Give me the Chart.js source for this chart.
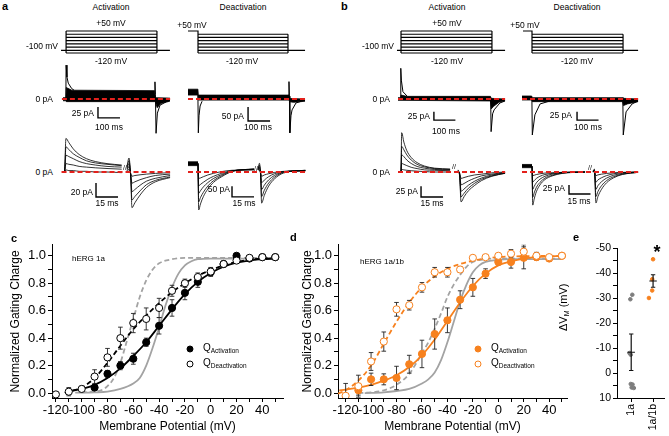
<!DOCTYPE html>
<html>
<head>
<meta charset="utf-8">
<script src="https://cdn.jsdelivr.net/npm/chart.js@4.4.1/dist/chart.umd.min.js"></script>
<style>
body{margin:0;background:#fff;width:669px;height:436px;position:relative;overflow:hidden;font-family:"Liberation Sans",Arial,sans-serif;}
canvas{position:absolute;}
.t{position:absolute;white-space:nowrap;line-height:1;color:#000;}
.t sub{font-size:0.65em;vertical-align:-0.25em;}
.dot{position:absolute;border-radius:50%;box-sizing:border-box;transform:translate(-50%,-50%);}
</style>
</head>
<body>
<script>
// ---------- panels a / b : protocols (mV, schematic) ----------
const stepsAct = [-120, -100, -75, -50, -25, 0, 25, 50];
const stepsDeact = [-120, -100, -75, -50, -25, 0, 25];
const holdMv = -100, preMv = 50;
// [hold start, step on, step off, hold end] in ms
const aActProtoT = [-9, 14, 427, 486];
const aDeactProtoT = [0, 45.5, 454.5, 532];
const bActProtoT = [-4.7, 14, 437, 498];
const bDeactProtoT = [4.7, 46.5, 470, 540];

// ---------- long current traces (ms, pA) ----------
const aActLongHi = [[0,3],[13,3],[15,26],[40,20],[416,19],[420,3],[486,2]];
const aActLongLo = [[0,-4],[13,-4],[15,-6],[416,-6],[421,-8],[428,-20],[445,-10],[470,-7],[486,-5]];
const aActLongSpk = [[13,0],[14,77],[18,50],[24,36],[39,24],[50,20],null,[416,10],[418,39],[420,10],[423,-78],[429,-32],[441,-14],[471,-6],[486,-3]];

const aDeactLongHi = [[0,35],[45,35],[47,14],[459,14],[462,2],[532,0]];
const aDeactLongLo = [[0,14],[45,14],[47,-4],[459,-4],[464,-10],[480,-12],[532,-8]];
const aDeactLongSpk = [[45,14],[47,-121],[50,-60],[55,-25],[64,-8],null,[457,14],[459,62],[461,10],[463,-121],[468,-60],[473,-39],[491,-14],[532,-4]];

const bActLongHi = [[0,4],[12,4],[14,12],[40,8],[430,8],[433,2],[498,0]];
const bActLongLo = [[0,-4],[430,-6],[434,-30],[445,-22],[470,-10],[498,-5]];
const bActLongSpk = [[12,0],[13,93],[16,55],[23,22],[42,9],null,[431,5],[433,-99],[440,-45],[447,-33],[474,-12],[498,-6]];

const bDeactLongHi = [[0,9],[45,9],[48,4],[470,4],[472,2],[540,0]];
const bDeactLongLo = [[0,-3],[45,-3],[48,-8],[468,-8],[472,-20],[490,-15],[540,-8]];
const bDeactLongSpk = [[46,4],[48,-109],[60,-48],[84,-15],[130,-6],null,[469,0],[471,-109],[484,-39],[512,-15],[540,-6]];

// ---------- expanded traces (ms, pA), two windows split by a break ----------
const aActShortT1 = [0, 1, 2, 4, 7, 11, 16, 22, 30, 40];
const aActShortI1 = [
  [0,0,48,42,33,25,19,15,12,10],
  [0,0,36,32,26,21,16,13,11,9],
  [0,0,24,22,19,15,12,10,8,7],
  [0,0,12,11,10,8,7,6,5,4],
  [0,0,3,2,2,1,1,0,0,-1]];
const aActShortT2 = [43.6, 45, 46.2, 47, 49, 52.5, 57, 63, 73];
const aActShortI2 = [
  [8,20,-10,-51,-44,-33,-22,-14,-8],
  [6,16,-8,-40,-35,-27,-18,-12,-7],
  [4,12,-6,-28,-25,-19,-13,-9,-5],
  [2,8,-4,-16,-14,-11,-8,-5,-3],
  [0,4,-2,-6,-5,-4,-3,-2,-1]];

const aDeactShortPreHi = [[0,48],[6.8,48]];
const aDeactShortPreLo = [[0,30],[6.8,30]];
const aDeactShortT1 = [6.8, 7.3, 8.5, 10.5, 13.5, 17.5, 23, 30, 45];
const aDeactShortI1 = [
  [40,-178,-150,-115,-80,-48,-22,2,15],
  [40,-140,-120,-95,-66,-40,-17,4,14],
  [40,-100,-88,-70,-50,-30,-12,5,12],
  [40,-65,-58,-48,-34,-20,-6,6,11],
  [40,-30,-28,-22,-14,-6,2,8,10]];
const aDeactShortT2 = [47.7, 48.7, 49.5, 50.2, 52, 55, 59, 65, 80];
const aDeactShortI2 = [
  [12,41,-20,-146,-110,-66,-32,-5,8],
  [12,32,-15,-115,-86,-52,-24,-2,8],
  [12,24,-10,-82,-62,-37,-16,0,7],
  [10,16,-6,-50,-38,-22,-8,2,6],
  [10,8,-2,-20,-14,-8,-2,3,5]];

const bActShortT1 = [0, 2, 2.5, 4, 6, 9, 13, 18, 25, 35.5];
const bActShortI1 = [
  [0,0,92,70,50,34,22,14,9,7],
  [0,0,60,52,40,28,18,12,8,6],
  [0,0,40,36,28,20,13,9,6,5],
  [0,0,20,18,15,11,8,5,4,3],
  [0,0,6,5,4,3,2,1,0,0]];
const bActShortT2 = [41, 42, 43, 45, 48, 52, 57, 64, 73];
const bActShortI2 = [
  [5,-10,-70,-58,-44,-32,-20,-10,-3],
  [4,-8,-58,-50,-38,-27,-17,-9,-3],
  [3,-6,-45,-40,-31,-22,-14,-7,-2],
  [2,-4,-30,-27,-21,-15,-9,-5,-1],
  [1,-2,-15,-13,-10,-7,-5,-2,0]];

const bDeactShortPreHi = [[0,21],[7,21]];
const bDeactShortPreLo = [[0,12],[7,12]];
const bDeactShortT1 = [7, 7.5, 8.5, 10, 12.5, 16, 21, 28, 44];
const bDeactShortI1 = [
  [16,-92,-75,-55,-36,-21,-11,-4,0],
  [16,-70,-58,-43,-29,-17,-9,-3,0],
  [16,-48,-40,-30,-20,-12,-6,-2,0],
  [16,-28,-24,-18,-12,-7,-4,-1,0],
  [16,-10,-9,-7,-5,-3,-2,-1,0]];
const bDeactShortT2 = [49.5, 50.5, 51.6, 53, 55.5, 59, 64, 70, 81];
const bDeactShortI2 = [
  [2,8,-86,-68,-48,-30,-16,-7,-1],
  [2,6,-68,-54,-38,-24,-13,-6,-1],
  [2,4,-48,-38,-27,-17,-9,-4,0],
  [1,2,-28,-22,-16,-10,-5,-2,0],
  [0,1,-10,-8,-6,-4,-2,-1,0]];

// zero-current reference spans [start, end] ms
const aActZero = [[-5, 487], [-1, 73]];
const aDeactZero = [[0, 532], [0, 80]];
const bActZero = [[0, 498], [0, 73]];
const bDeactZero = [[0, 540], [0, 81]];

// scale bars [t, i, dt, di]
const aActBars = [[159, -43, 100, 25], [22.5, -35.7, 15, 20]];
const aDeactBars = [[273, -78.6, 100, 50], [30, -117, 15, 50]];
const bActBars = [[167, -64, 100, 25], [15.7, -58.5, 15, 25]];
const bDeactBars = [[256, -64, 100, 25], [32.8, -61, 15, 25]];

// ---------- panels c / d : Q-V ----------
const vmTicks = [-120,-110,-100,-90,-80,-70,-60,-50,-40,-30,-20,-10,0,10,20,30,40,50];
const qTicks = [0, 0.1, 0.2, 0.3, 0.4, 0.5, 0.6, 0.7, 0.8, 0.9, 1.0];
const vm = [-120,-110,-100,-90,-80,-70,-60,-50,-40,-30,-20,-10,0,10,20,30,40,50];

const cActQ   = [null,null,null,0.04,0.14,0.20,0.25,0.37,0.49,0.62,0.73,0.81,0.88,0.94,1.0,0.98,0.99,0.99];
const cActErr = [null,null,null,0.02,0.025,0.03,0.04,0.03,0.06,0.06,0.05,0.04,0.03,0.02,0.005,0.01,0.01,0.01];
const cDeactQ   = [-0.01,0.01,0.03,0.12,0.26,0.40,0.51,0.54,0.62,0.745,0.80,0.845,0.885,0.94,0.965,0.985,0.99,0.99];
const cDeactErr = [0,0.03,0.02,0.05,0.065,0.08,0.07,0.08,0.07,0.04,0.03,0.03,0.03,0.02,0.01,0.01,0.005,0.005];
const cFitAct = [[-113,0.0],[-110,0.01],[-100,0.03],[-90,0.06],[-80,0.11],[-70,0.18],[-60,0.27],[-50,0.37],[-40,0.49],[-30,0.61],[-20,0.72],[-10,0.81],[0,0.875],[10,0.92],[20,0.95],[30,0.965],[40,0.975],[50,0.98]];
const cFitDeact = [[-113,0.0],[-110,0.01],[-100,0.04],[-90,0.11],[-80,0.22],[-70,0.345],[-60,0.465],[-50,0.565],[-40,0.655],[-30,0.735],[-20,0.80],[-10,0.855],[0,0.895],[10,0.93],[20,0.955],[30,0.97],[40,0.98],[50,0.985]];
const cRefAct = [[-105,0.003],[-90,0.005],[-80,0.01],[-70,0.03],[-60,0.07],[-55,0.11],[-50,0.2],[-45,0.33],[-40,0.48],[-35,0.64],[-30,0.77],[-25,0.87],[-20,0.93],[-15,0.96],[-10,0.975],[0,0.98],[50,0.98]];
const cRefDeact = [[-100,0.005],[-90,0.01],[-85,0.02],[-80,0.05],[-75,0.11],[-70,0.22],[-65,0.38],[-60,0.54],[-55,0.70],[-50,0.82],[-45,0.90],[-40,0.945],[-30,0.975],[-20,0.985],[50,0.985]];

const dActQ   = [null,0.02,0.10,0.10,0.11,0.21,0.285,0.43,0.53,0.68,0.77,0.87,0.955,0.955,0.985,0.99,0.98,1.0];
const dActErr = [null,0.035,0.045,0.04,0.085,0.065,0.10,0.11,0.09,0.065,0.065,0.035,0.02,0.045,0.08,0.02,0.02,0.005];
const dDeactQ   = [-0.02,0.05,0.23,0.375,0.61,0.64,0.77,0.88,0.88,0.90,0.985,0.99,1.0,1.015,1.03,1.0,0.99,1.0];
const dDeactErr = [0.09,0.08,0.065,0.07,0.05,0.035,0.035,0.035,0.035,0.02,0.005,0.005,0.005,0.03,0.05,0.025,0.01,0.005];
const dFitAct = [[-125,0.02],[-120,0.025],[-110,0.04],[-100,0.06],[-90,0.09],[-80,0.13],[-70,0.19],[-60,0.275],[-50,0.39],[-40,0.525],[-30,0.66],[-20,0.78],[-10,0.87],[0,0.93],[10,0.96],[20,0.98],[30,0.99],[40,0.995],[50,1.0]];
const dFitDeact = [[-126,-0.005],[-120,0.02],[-110,0.09],[-100,0.20],[-90,0.36],[-80,0.52],[-70,0.66],[-60,0.77],[-50,0.85],[-40,0.905],[-30,0.94],[-20,0.965],[-10,0.98],[0,0.99],[10,0.995],[50,1.0]];
const dRefAct = [[-105,0.0],[-90,0.005],[-80,0.015],[-70,0.03],[-60,0.07],[-55,0.10],[-50,0.15],[-45,0.24],[-40,0.37],[-35,0.52],[-30,0.67],[-25,0.79],[-20,0.88],[-15,0.93],[-10,0.955],[0,0.97],[10,0.975],[50,0.975]];
const dRefDeact = [[-110,0.0],[-100,0.005],[-90,0.02],[-80,0.06],[-70,0.14],[-60,0.29],[-55,0.37],[-50,0.47],[-45,0.58],[-40,0.70],[-35,0.79],[-30,0.86],[-25,0.92],[-20,0.955],[-10,0.975],[0,0.98],[50,0.98]];

// ---------- panel e : shift of V1/2 ----------
const eCats = ['1a', '1a/1b'];
const eYTicks = [-50,-45,-40,-35,-30,-25,-20,-15,-10,-5,0,5,10];
const e1aDv = [-31.3, -29.5, -8, -7.3, 4.4, 4.6, 5.8, 6.0];
const e1aX  = [1.05, 0.96, 0.92, 0.98, 0.98, 1.06, 1.02, 1.12];
const e1bDv = [-45.5, -37.5, -33, -30];
const e1bX  = [2.0, 1.96, 1.96, 1.81];
const eMean = [-8.3, -36.8];
const eSem  = [7.3, 2.5];

// ================= drawing =================
const FONT = '"Liberation Sans", Arial, sans-serif';
Chart.defaults.font.family = FONT;
Chart.defaults.color = '#000';
const RED = '#e3211c', ORANGE = '#f7811e', GREY = '#a3a3a3';

function P(arr) {
  return arr.map((p, k) => p ? {x: p[0], y: p[1]} : {x: arr[k - 1][0], y: null});
}
function ln(data, xa, ya, color, width, extra) {
  return Object.assign({type: 'line', data, xAxisID: xa, yAxisID: ya, borderColor: color,
    backgroundColor: color, borderWidth: width, pointRadius: 0, fill: false, tension: 0}, extra || {});
}
function makeCanvas(l, t, w, h) {
  const c = document.createElement('canvas');
  c.width = w; c.height = h;
  c.style.left = l + 'px'; c.style.top = t + 'px';
  c.style.width = w + 'px'; c.style.height = h + 'px';
  document.body.appendChild(c);
  return c;
}
function txt(html, x, y, size, align, extra) {
  const d = document.createElement('div');
  d.className = 't';
  d.innerHTML = html;
  d.style.left = x + 'px'; d.style.top = y + 'px'; d.style.fontSize = size + 'px';
  const tx = align === 'r' ? '-100%' : align === 'c' ? '-50%' : '0';
  d.style.transform = 'translate(' + tx + ',-50%)' + (extra || '');
  document.body.appendChild(d);
  return d;
}
function dot(x, y, d, fill, stroke) {
  const e = document.createElement('div');
  e.className = 'dot';
  e.style.left = x + 'px'; e.style.top = y + 'px';
  e.style.width = d + 'px'; e.style.height = d + 'px';
  e.style.background = fill; e.style.border = '1px solid ' + stroke;
  document.body.appendChild(e);
}

// protocol outline from step levels
function protoSegs(steps, T, withPre) {
  const top = Math.max(...steps), bot = Math.min(...steps);
  const segs = steps.map(v => [[T[1], v], [T[2], v]]);
  segs.push([[T[2], bot], [T[2], top]]);
  if (withPre) {
    segs.push([[T[0], preMv], [T[1], preMv], [T[1], bot]]);
  } else {
    segs.push([[T[1], bot], [T[1], top]]);
    segs.push([[T[0], holdMv], [T[1], holdMv]]);
  }
  segs.push([[T[2], holdMv], [T[3], holdMv]]);
  return segs.flatMap(s => [...s, null]).slice(0, -1);
}
function bar(b) {
  return [[b[0], b[1] + b[3]], [b[0], b[1]], [b[0] + b[2], b[1]]];
}
function family(T1, I1, T2, I2, xa, ya) {
  return I1.map((row, k) => ln(P([...T1.map((t, j) => [t, row[j]]), null, ...T2.map((t, j) => [t, I2[k][j]])]),
    xa, ya, '#000', 0.8, {cubicInterpolationMode: 'monotone'}));
}
function axisRange(a, lo, size, vertical) {
  if (!vertical) return {min: a[0] - (a[1] - lo) / a[2], max: a[0] + (lo + size - a[1]) / a[2]};
  return {min: a[0] - (lo + size - a[1]) / a[2], max: a[0] + (a[1] - lo) / a[2]};
}

// one column (protocol + long trace + expanded trace)
function column(box, ax, c) {
  const sets = [];
  sets.push(ln(P([[c.zero[0][0], 0], [c.zero[0][1], 0]]), 'xL', 'yI1', RED, 2, {borderDash: [5, 3]}));
  sets.push(ln(P([[c.zero[1][0], 0], [c.zero[1][1], 0]]), 'xS', 'yI2', RED, 2, {borderDash: [5, 3]}));
  sets.push(ln(P(protoSegs(c.steps, c.proto, c.pre)), 'xL', 'yV', '#000', 1.2));
  sets.push(ln(P(bar(c.bars[0])), 'xL', 'yI1', '#000', 1.4));
  sets.push(ln(P(bar(c.bars[1])), 'xS', 'yI2', '#000', 1.4));
  sets.push(ln(P(c.spk), 'xL', 'yI1', '#000', 1));
  sets.push(ln(P(c.hi), 'xL', 'yI1', '#000', 0.8));
  sets.push(ln(P(c.lo), 'xL', 'yI1', '#000', 0.8, {fill: '-1', backgroundColor: '#000'}));
  sets.push(...family(c.T1, c.I1, c.T2, c.I2, 'xS', 'yI2'));
  if (c.preHi) {
    sets.push(ln(P(c.preHi), 'xS', 'yI2', '#000', 0.8));
    sets.push(ln(P(c.preLo), 'xS', 'yI2', '#000', 0.8, {fill: '-1', backgroundColor: '#000'}));
  }
  const scales = {};
  ['xL', 'xS'].forEach(id => { const r = axisRange(ax[id], box[0], box[2], false); scales[id] = {type: 'linear', display: false, min: r.min, max: r.max}; });
  ['yV', 'yI1', 'yI2'].forEach(id => { const r = axisRange(ax[id], box[1], box[3], true); scales[id] = {type: 'linear', display: false, min: r.min, max: r.max}; });
  new Chart(makeCanvas(...box), {type: 'line', data: {datasets: sets}, options: {
    responsive: false, animation: false, events: [], layout: {padding: 0}, scales,
    plugins: {legend: {display: false}, tooltip: {enabled: false}}}});
}

// axis anchors: [value, pixel, px per unit]
const yV = [-120, 53, 0.1294];
column([55, 15, 125, 205], {xL: [0, 63, 0.22], xS: [0, 63, 1.467], yV, yI1: [0, 99, 0.44], yI2: [0, 172, 0.7]},
  {steps: stepsAct, proto: aActProtoT, pre: false, hi: aActLongHi, lo: aActLongLo, spk: aActLongSpk,
   T1: aActShortT1, I1: aActShortI1, T2: aActShortT2, I2: aActShortI2, zero: aActZero, bars: aActBars});
column([182, 15, 128, 205], {xL: [0, 188, 0.22], xS: [0, 188, 1.467], yV, yI1: [0, 99, 0.28], yI2: [0, 172, 0.213]},
  {steps: stepsDeact, proto: aDeactProtoT, pre: true, hi: aDeactLongHi, lo: aDeactLongLo, spk: aDeactLongSpk,
   T1: aDeactShortT1, I1: aDeactShortI1, T2: aDeactShortT2, I2: aDeactShortI2, preHi: aDeactShortPreHi, preLo: aDeactShortPreLo,
   zero: aDeactZero, bars: aDeactBars});
column([392, 15, 118, 205], {xL: [0, 398, 0.215], xS: [0, 398, 1.467], yV, yI1: [0, 99, 0.33], yI2: [0, 172, 0.427]},
  {steps: stepsAct, proto: bActProtoT, pre: false, hi: bActLongHi, lo: bActLongLo, spk: bActLongSpk,
   T1: bActShortT1, I1: bActShortI1, T2: bActShortT2, I2: bActShortI2, zero: bActZero, bars: bActBars});
column([515, 15, 128, 205], {xL: [0, 522, 0.215], xS: [0, 522, 1.433], yV, yI1: [0, 99, 0.33], yI2: [0, 172, 0.36]},
  {steps: stepsDeact, proto: bDeactProtoT, pre: true, hi: bDeactLongHi, lo: bDeactLongLo, spk: bDeactLongSpk,
   T1: bDeactShortT1, I1: bDeactShortI1, T2: bDeactShortT2, I2: bDeactShortI2, preHi: bDeactShortPreHi, preLo: bDeactShortPreLo,
   zero: bDeactZero, bars: bDeactBars});

// ---------- c / d ----------
function pts(ys) { return vm.map((x, k) => ({x, y: ys[k]})); }
function errBars(xs, ys, es, cap) {
  const out = [];
  xs.forEach((x, k) => {
    if (ys[k] == null || !es[k]) return;
    const lo = ys[k] - es[k], hi = ys[k] + es[k];
    out.push([x, lo], [x, hi], null, [x - cap, hi], [x + cap, hi], null, [x - cap, lo], [x + cap, lo], null);
  });
  return P(out.slice(0, -1));
}
function qvSets(col, act, actE, deact, deactE, fitA, fitD, refA, refD) {
  const smooth = {cubicInterpolationMode: 'monotone'};
  return [
    ln(pts(deact), 'x', 'y', col, 1, {showLine: false, pointRadius: 3.6, pointBackgroundColor: '#fff', pointBorderColor: col, pointBorderWidth: 1}),
    ln(pts(act), 'x', 'y', col, 1, {showLine: false, pointRadius: 3.6, pointBackgroundColor: col, pointBorderColor: col}),
    ln(errBars(vm, deact, deactE, 1.8), 'x', 'y', '#222', 0.9),
    ln(errBars(vm, act, actE, 1.8), 'x', 'y', '#222', 0.9),
    ln(P(fitA), 'x', 'y', col, 1.8, smooth),
    ln(P(fitD), 'x', 'y', col, 1.8, Object.assign({borderDash: [5, 3]}, smooth)),
    ln(P(refA), 'x', 'y', GREY, 1.8, smooth),
    ln(P(refD), 'x', 'y', GREY, 1.8, Object.assign({borderDash: [5, 3]}, smooth))
  ];
}
const axisStyle = {grid: {drawOnChartArea: false, color: '#000', tickLength: 4}, border: {color: '#000', width: 1}};
function qvChart(box, xr, yW, padR, titlePad, sets) {
  new Chart(makeCanvas(...box), {type: 'line', data: {datasets: sets}, options: {
    responsive: false, animation: false, events: [],
    layout: {padding: {top: 8, right: padR, left: 0, bottom: 0}},
    plugins: {legend: {display: false}, tooltip: {enabled: false}},
    scales: {
      x: Object.assign({type: 'linear', min: xr[0], max: xr[1],
        afterBuildTicks: s => { s.ticks = vmTicks.map(v => ({value: v})); },
        afterFit: s => { s.height = 38; },
        ticks: {callback: v => (v % 20 === 0 ? String(v) : ''), autoSkip: false, minRotation: 0, maxRotation: 0, padding: 1, font: {size: 13}, color: '#000'},
        title: {display: true, text: 'Membrane Potential (mV)', font: {size: 12}, color: '#000', padding: {top: 0, bottom: 2}}}, axisStyle),
      y: Object.assign({type: 'linear', min: -0.036, max: 1.08,
        afterBuildTicks: s => { s.ticks = qTicks.map(v => ({value: v})); },
        afterFit: s => { s.width = yW; },
        ticks: {callback: v => (Math.round(v * 10) % 2 === 0 ? v.toFixed(1) : ''), autoSkip: false, padding: 2, font: {size: 13}, color: '#000'},
        title: {display: true, text: 'Normalized Gating Charge', font: {size: 12}, color: '#000', padding: {top: titlePad, bottom: 0}}}, axisStyle)
    }}});
}
qvChart([0, 235, 290, 201], [-123, 56], 52, 7, 8,
  qvSets('#000', cActQ, cActErr, cDeactQ, cDeactErr, cFitAct, cFitDeact, cRefAct, cRefDeact));
qvChart([290, 235, 282, 201], [-126, 54], 48, 5, 10,
  qvSets(ORANGE, dActQ, dActErr, dDeactQ, dDeactErr, dFitAct, dFitDeact, dRefAct, dRefDeact));

// ---------- e ----------
const eSets = [];
const eLines = [];
eMean.forEach((m, k) => {
  const c = k + 1, s = eSem[k];
  eLines.push([c - 0.17, m], [c + 0.17, m], null, [c, m - s], [c, m + s], null,
    [c - 0.1, m - s], [c + 0.1, m - s], null, [c - 0.1, m + s], [c + 0.1, m + s], null);
});
eSets.push(ln(P(eLines.slice(0, -1)), 'x', 'y', '#111', 1.2));
eSets.push(ln(e1aX.map((x, k) => ({x, y: e1aDv[k]})), 'x', 'y', '#7d7d7d', 1, {showLine: false, pointRadius: 1.8}));
eSets.push(ln(e1bX.map((x, k) => ({x, y: e1bDv[k]})), 'x', 'y', ORANGE, 1, {showLine: false, pointRadius: 1.8}));
new Chart(makeCanvas(575, 235, 94, 201), {type: 'line', data: {datasets: eSets}, options: {
  responsive: false, animation: false, events: [],
  layout: {padding: {top: 13, right: 0, left: 0, bottom: 0}},
  plugins: {legend: {display: false}, tooltip: {enabled: false}},
  scales: {
    x: Object.assign({type: 'linear', min: 0.35, max: 2.5,
      afterBuildTicks: s => { s.ticks = [1, 2].map(v => ({value: v})); },
      afterFit: s => { s.height = 38; },
      ticks: {callback: v => eCats[v - 1], autoSkip: false, minRotation: 90, maxRotation: 90, padding: 2, font: {size: 10.5}, color: '#000'}}, axisStyle),
    y: Object.assign({type: 'linear', min: -50, max: 10, reverse: true,
      afterBuildTicks: s => { s.ticks = eYTicks.map(v => ({value: v})); },
      afterFit: s => { s.width = 42; },
      ticks: {callback: v => (v % 10 === 0 ? String(v) : ''), autoSkip: false, padding: 2, font: {size: 10.5}, color: '#000'}}, axisStyle)
  }}});

// ---------- text ----------
txt('<b>a</b>', 2, 6, 11, 'l');
txt('<b>b</b>', 341, 6, 11, 'l');
txt('<b>c</b>', 11, 238, 11, 'l');
txt('<b>d</b>', 290, 237, 11, 'l');
txt('<b>e</b>', 573, 237, 11, 'l');

const F = 8.5;
txt('Activation', 111, 7, F, 'c');
txt('Deactivation', 243, 7, F, 'c');
txt('+50 mV', 111, 23, F, 'c');
txt('-120 mV', 111, 61, F, 'c');
txt('-100 mV', 58, 46, F, 'r');
txt('+50 mV', 192, 25, F, 'c');
txt('-120 mV', 242, 61, F, 'c');
txt('0 pA', 53, 99, F, 'r');
txt('0 pA', 53, 172, F, 'r');
txt('25 pA', 94, 113, F, 'r');
txt('100 ms', 109, 127, F, 'c');
txt('50 pA', 244, 116, F, 'r');
txt('100 ms', 258, 127, F, 'c');
txt('20 pA', 93, 192, F, 'r');
txt('15 ms', 107, 203, F, 'c');
txt('50 pA', 230, 189, F, 'r');
txt('15 ms', 244, 203, F, 'c');
txt('//', 125, 167, 7, 'c');
txt('//', 256, 168, 7, 'c');

txt('Activation', 447, 7, F, 'c');
txt('Deactivation', 577, 7, F, 'c');
txt('+50 mV', 447, 23, F, 'c');
txt('-120 mV', 447, 61, F, 'c');
txt('-100 mV', 394, 46, F, 'r');
txt('+50 mV', 525, 25, F, 'c');
txt('-120 mV', 577, 61, F, 'c');
txt('0 pA', 390, 99, F, 'r');
txt('0 pA', 390, 172, F, 'r');
txt('25 pA', 430, 116, F, 'r');
txt('100 ms', 446, 131, F, 'c');
txt('25 pA', 572, 115, F, 'r');
txt('100 ms', 588, 127, F, 'c');
txt('25 pA', 418, 191, F, 'r');
txt('15 ms', 432, 203, F, 'c');
txt('25 pA', 565, 188, F, 'r');
txt('15 ms', 579, 201, F, 'c');
txt('//', 454, 166, 7, 'c');
txt('//', 590, 167, 7, 'c');

txt('hERG 1a', 72, 259, 8, 'l');
txt('hERG 1a/1b', 360, 262, 8, 'l');
dot(190, 349, 7, '#000', '#000');
dot(190, 364, 7, '#fff', '#000');
txt('Q<sub>Activation</sub>', 203, 349, 10, 'l');
txt('Q<sub>Deactivation</sub>', 203, 364, 10, 'l');
dot(478, 349, 7, ORANGE, ORANGE);
dot(478, 364, 7, '#fff', ORANGE);
txt('Q<sub>Activation</sub>', 491, 349, 10, 'l');
txt('Q<sub>Deactivation</sub>', 491, 364, 10, 'l');

txt('\u0394V<sub>M</sub> (mV)', 588, 331, 11, 'c', ' rotate(-90deg)').style.transformOrigin = '0 50%';
txt('*', 657, 252, 18, 'c').style.fontWeight = 'bold';
</script>
</body>
</html>
